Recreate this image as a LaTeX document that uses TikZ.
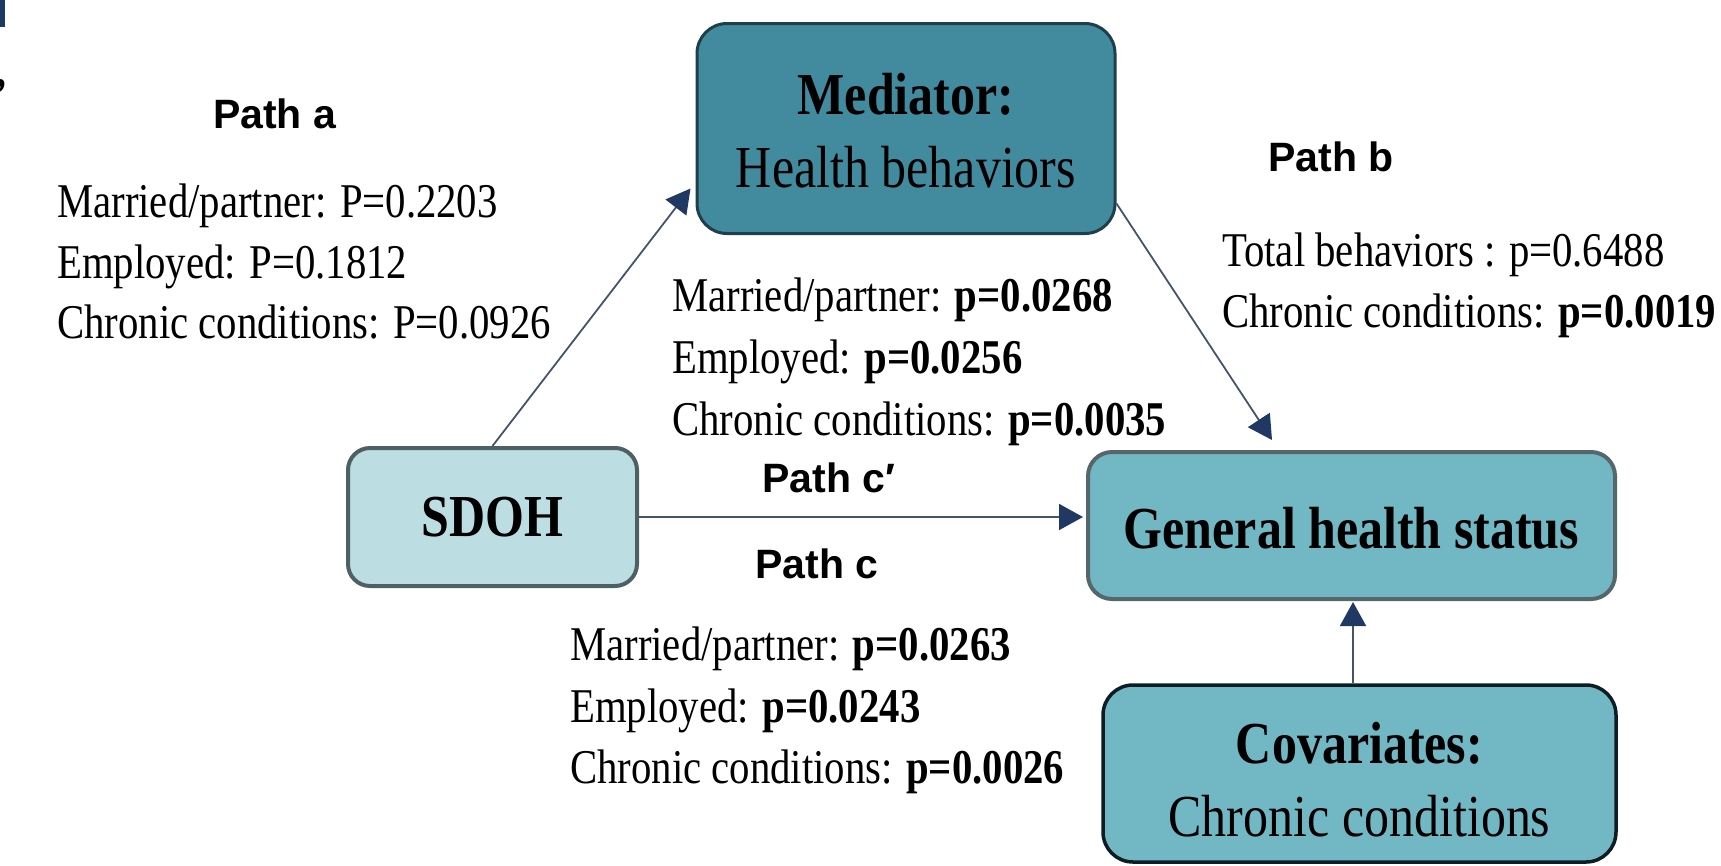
\documentclass[tikz,border=0pt]{standalone}
\usepackage{fontspec}
\setmainfont{Liberation Serif}[FakeStretch=0.84]
\newfontfamily\pathfont{Liberation Sans}
\usetikzlibrary{arrows.meta,calc}
\definecolor{medfill}{HTML}{428A9E}
\definecolor{medborder}{HTML}{1F3F4A}
\definecolor{sdohfill}{HTML}{BCDDE2}
\definecolor{sdohborder}{HTML}{4F6064}
\definecolor{ghsfill}{HTML}{72B8C4}
\definecolor{ghsborder}{HTML}{56676B}
\definecolor{covborder}{HTML}{0E1C24}
\definecolor{linecol}{HTML}{44546A}
\definecolor{navy}{HTML}{1F3864}
\begin{document}
\begin{tikzpicture}[x=1pt,y=-1pt,
  boxnode/.style={rounded corners=#1, inner sep=0pt, align=center,
    font=\fontsize{59.5}{73}\selectfont},
  stat/.style={anchor=base west, inner sep=0pt, font=\fontsize{48.5}{59}\selectfont},
  pathlbl/.style={anchor=base west, inner sep=0pt, font=\pathfont\bfseries\fontsize{41}{49}\selectfont},
  arr/.style={draw=linecol, line width=1.8pt, -{Triangle[length=24pt,width=26pt,color=navy]}}]
\useasboundingbox (0,0) rectangle (1721,865);

% edge fragments at the top left
\fill[navy] (0,0) rectangle (5,27);
\node[anchor=base east, inner sep=0pt, font=\bfseries\fontsize{47}{59}\selectfont] (frag) at (7,86) {,};

% boxes
\node[boxnode=30pt, fill=medfill, draw=medborder, line width=3pt,
  minimum width=418pt, minimum height=210pt] (med) at (906,128.5)
  {\rule{0pt}{45pt}\textbf{Mediator:}\\Health behaviors};
\node[boxnode=22pt, fill=sdohfill, draw=sdohborder, line width=4pt,
  minimum width=289pt, minimum height=138pt] (sdoh) at (492.5,517)
  {\textbf{SDOH}};
\node[boxnode=24pt, fill=ghsfill, draw=ghsborder, line width=4pt,
  minimum width=527pt, minimum height=147pt] (ghs) at (1351.5,525.5)
  {\rule{0pt}{46pt}\textbf{General health status}};
\node[boxnode=30pt, fill=ghsfill, draw=covborder, line width=3.5pt,
  minimum width=513pt, minimum height=177pt] (cov) at (1359.5,773.5)
  {\rule{0pt}{54pt}\textbf{Covariates:}\\Chronic conditions};

% connectors
\draw[arr] (sdoh.north) -- ($(med.west)+(-5,60)$);
\draw[arr] ($(med.east)+(0,75)$) -- ($(ghs.north)+(-79.5,-10)$);
\draw[arr, shorten >=3pt] (sdoh.east) -- (sdoh.east -| ghs.west);
\draw[arr, shorten >=1pt] ($(cov.north)+(-6.5,0)$) -- ($(cov.north |- ghs.south)+(-6.5,0)$);

% path a
\node[pathlbl] (pa) at (213,128) {Path a};
\node[stat] (pa1) at (57,217) {Married/partner: P=0.2203};
\node[stat] (pa2) at (57,278) {Employed: P=0.1812};
\node[stat] (pa3) at (57,338) {Chronic conditions: P=0.0926};

% path b
\node[pathlbl] (pb) at (1268,171) {Path b};
\node[stat] (pb1) at (1222,266) {Total behaviors : p=0.6488};
\node[stat] (pb2) at (1222,327) {Chronic conditions: \textbf{p=0.0019}};

% path c'
\node[stat] (m1) at (672,311) {Married/partner: \textbf{p=0.0268}};
\node[stat] (m2) at (672,373) {Employed: \textbf{p=0.0256}};
\node[stat] (m3) at (672,435) {Chronic conditions: \textbf{p=0.0035}};
\node[pathlbl] (pcp) at (762,492) {Path c′};

% path c
\node[pathlbl] (pc) at (755,578) {Path c};
\node[stat] (c1) at (570,660) {Married/partner: \textbf{p=0.0263}};
\node[stat] (c2) at (570,722) {Employed: \textbf{p=0.0243}};
\node[stat] (c3) at (570,783) {Chronic conditions: \textbf{p=0.0026}};
\end{tikzpicture}
\end{document}
